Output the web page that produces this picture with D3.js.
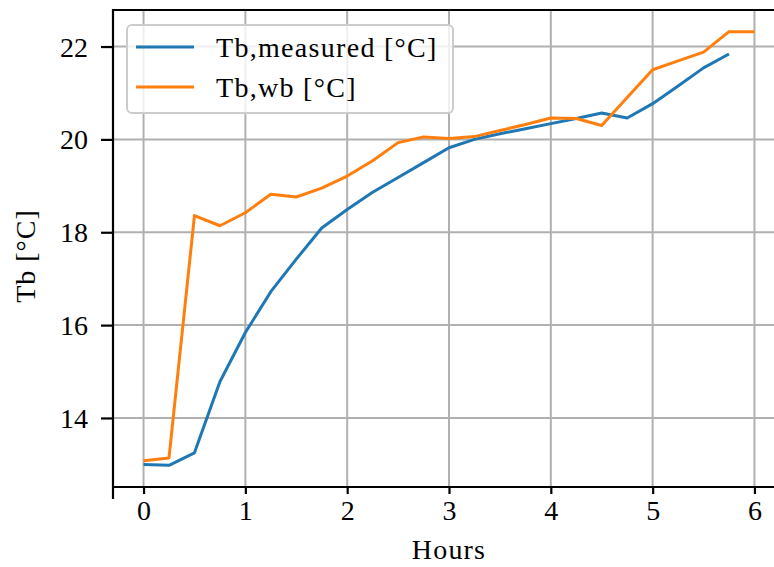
<!DOCTYPE html>
<html>
<head>
<meta charset="utf-8">
<script src="https://cdn.jsdelivr.net/npm/d3@7"></script>
<style>
  body { margin: 0; background: #fff; }
  text { font-family: "Liberation Serif", "DejaVu Serif", serif; fill: #000; }
</style>
</head>
<body>
<div id="chart"></div>
<script>
var svgWidth = 774;
var svgHeight = 567;

// hours, every quarter
var hours = [0, 0.25, 0.5, 0.75, 1, 1.25, 1.5, 1.75, 2, 2.25, 2.5, 2.75, 3,
    3.25, 3.5, 3.75, 4, 4.25, 4.5, 4.75, 5, 5.25, 5.5, 5.75, 6];

var measured = [13.0, 12.98, 13.25, 14.78, 15.84, 16.72, 17.42, 18.09, 18.49, 18.86,
    19.18, 19.5, 19.82, 20.0, 20.12, 20.23, 20.34, 20.45, 20.57, 20.46,
    20.77, 21.15, 21.54, 21.84];

var wb = [13.08, 13.14, 18.36, 18.14, 18.42, 18.82, 18.76, 18.95, 19.21, 19.54,
    19.93, 20.05, 20.02, 20.06, 20.19, 20.32, 20.46, 20.45, 20.3, 20.9,
    21.5, 21.69, 21.88, 22.32, 22.32];

var xTicks = [0, 1, 2, 3, 4, 5, 6];
var yTicks = [14, 16, 18, 20, 22];

var seriesNames = ["Tb,measured [°C]", "Tb,wb [°C]"];
var colors = ["#1f77b4", "#ff7f0e"];

var series = [
    hours.slice(0, measured.length).map((h, i) => ({x: h, y: measured[i]})),
    hours.slice(0, wb.length).map((h, i) => ({x: h, y: wb[i]}))
];

var margin = {top: 10, left: 113, bottom: 80};
var plotBottom = 487;

var svg = d3.select("#chart")
    .append("svg")
    .attr("width", svgWidth)
    .attr("height", svgHeight);

// matplotlib-like 5% padding
var allY = measured.concat(wb);
var yMin = d3.min(allY), yMax = d3.max(allY);
var yPad = (yMax - yMin) * 0.05;

var xScale = d3.scaleLinear()
    .domain([-0.3, 6.3])
    .range([margin.left, 785]);

var yScale = d3.scaleLinear()
    .domain([yMin - yPad, yMax + yPad])
    .range([plotBottom, margin.top]);

// grid
svg.append("g")
    .selectAll("line.vx")
    .data(xTicks)
    .enter()
    .append("line")
    .attr("x1", d => xScale(d))
    .attr("x2", d => xScale(d))
    .attr("y1", margin.top)
    .attr("y2", plotBottom)
    .attr("stroke", "#b0b0b0")
    .attr("stroke-width", 2);

svg.append("g")
    .selectAll("line.hy")
    .data(yTicks)
    .enter()
    .append("line")
    .attr("x1", margin.left)
    .attr("x2", svgWidth)
    .attr("y1", d => yScale(d))
    .attr("y2", d => yScale(d))
    .attr("stroke", "#b0b0b0")
    .attr("stroke-width", 2);

// lines
var line = d3.line()
    .x(d => xScale(d.x))
    .y(d => yScale(d.y));

series.forEach(function(s, i) {
    svg.append("path")
        .datum(s)
        .attr("d", line)
        .attr("fill", "none")
        .attr("stroke", colors[i])
        .attr("stroke-width", 3)
        .attr("stroke-linejoin", "round");
});

// axes
var bottomAxis = d3.axisBottom(xScale)
    .tickValues(xTicks)
    .tickSize(7)
    .tickPadding(6)
    .tickFormat(d3.format("d"));

var leftAxis = d3.axisLeft(yScale)
    .tickValues(yTicks)
    .tickSize(12)
    .tickPadding(13)
    .tickFormat(d3.format("d"));

var gx = svg.append("g")
    .attr("transform", `translate(0, ${plotBottom})`)
    .call(bottomAxis);

var gy = svg.append("g")
    .attr("transform", `translate(${margin.left}, 0)`)
    .call(leftAxis);

[gx, gy].forEach(function(g) {
    g.select(".domain").remove();
    g.selectAll(".tick line").attr("stroke", "#000").attr("stroke-width", 2.2);
    g.selectAll(".tick text").attr("font-size", "28px").attr("font-family", "Liberation Serif");
});
gy.selectAll(".tick text").attr("dy", "0.34em");

// spines
svg.append("line")
    .attr("x1", margin.left).attr("x2", svgWidth)
    .attr("y1", margin.top).attr("y2", margin.top)
    .attr("stroke", "#000").attr("stroke-width", 2.2);
svg.append("line")
    .attr("x1", margin.left).attr("x2", svgWidth)
    .attr("y1", plotBottom).attr("y2", plotBottom)
    .attr("stroke", "#000").attr("stroke-width", 2.2);
svg.append("line")
    .attr("x1", margin.left).attr("x2", margin.left)
    .attr("y1", margin.top - 1).attr("y2", 499)
    .attr("stroke", "#000").attr("stroke-width", 2.2);

// axis labels
svg.append("text")
    .attr("x", 449)
    .attr("y", 559)
    .attr("text-anchor", "middle")
    .attr("font-size", "28px")
    .attr("letter-spacing", "1.2px")
    .text("Hours");

svg.append("text")
    .attr("transform", "translate(35, 256) rotate(-90)")
    .attr("text-anchor", "middle")
    .attr("font-size", "28px")
    .attr("letter-spacing", "1px")
    .text("Tb [°C]");

// legend
var legend = svg.append("g");
legend.append("rect")
    .attr("x", 127)
    .attr("y", 25)
    .attr("width", 326)
    .attr("height", 88)
    .attr("rx", 5)
    .attr("fill", "#fff")
    .attr("fill-opacity", 0.8)
    .attr("stroke", "#cccccc")
    .attr("stroke-width", 2);

var items = legend.selectAll("g.item")
    .data(seriesNames)
    .enter()
    .append("g")
    .attr("transform", (d, i) => `translate(0, ${47 + i * 40})`);

items.append("line")
    .attr("x1", 136)
    .attr("x2", 194)
    .attr("stroke", (d, i) => colors[i])
    .attr("stroke-width", 3);

items.append("text")
    .attr("x", 216)
    .attr("y", 10)
    .attr("font-size", "28px")
    .attr("letter-spacing", "1.3px")
    .text(d => d);
</script>
</body>
</html>
